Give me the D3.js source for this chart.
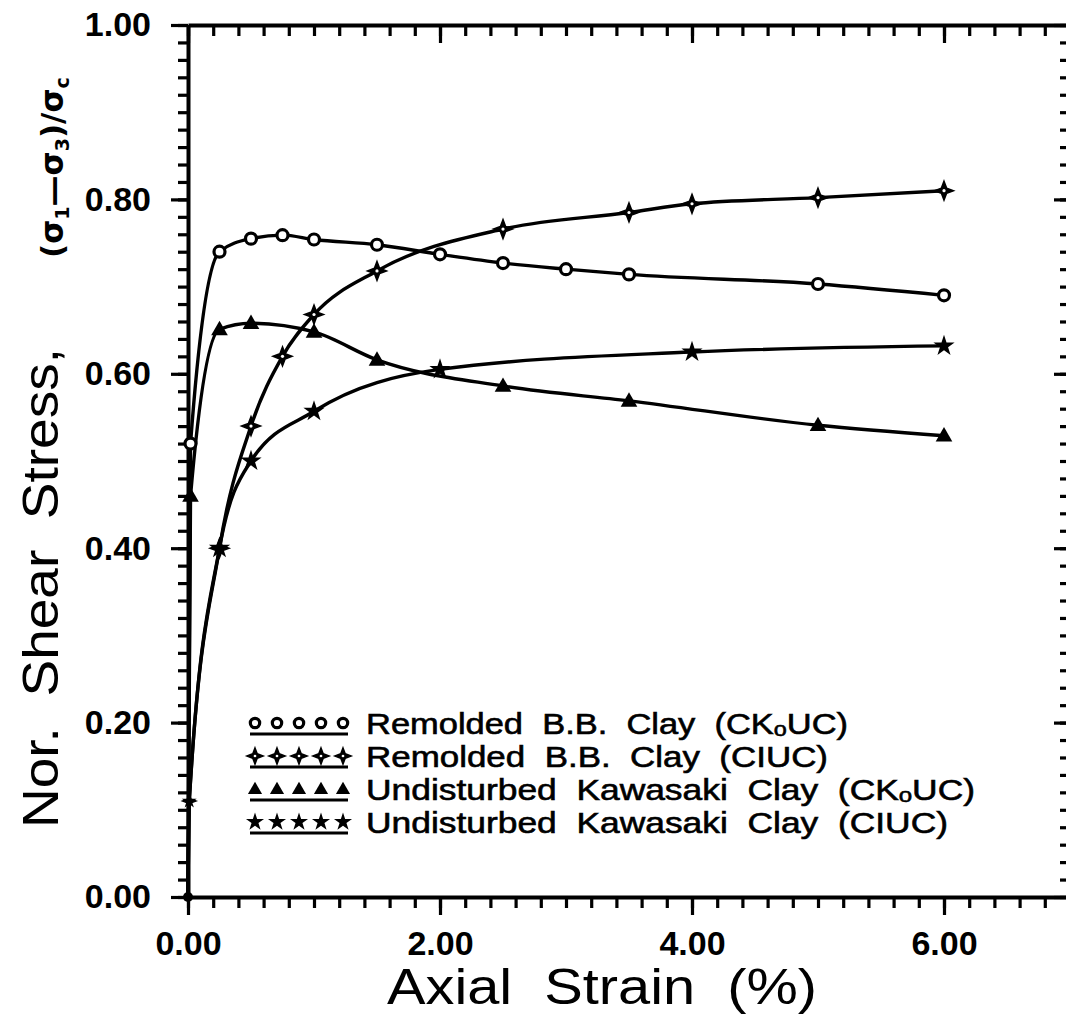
<!DOCTYPE html>
<html><head><meta charset="utf-8">
<script src="https://cdn.jsdelivr.net/npm/d3@7"></script>
<style>
body{margin:0;background:#fff}
svg{display:block}
text{white-space:pre}
</style>
</head><body>
<svg id="chart" width="1066" height="1019"></svg>
<script>
// ---------------- data ----------------
const strainBBCK0 = [0, 0.02, 0.25, 0.5, 0.75, 1.0, 1.5, 2.0, 2.5, 3.0, 3.5, 5.0, 6.0];
const stressBBCK0 = [0, 0.52, 0.74, 0.755, 0.759, 0.754, 0.748, 0.737, 0.727, 0.720, 0.714, 0.703, 0.690];

const strainBBCIU = [0, 0.01, 0.25, 0.5, 0.75, 1.0, 1.5, 2.5, 3.5, 4.0, 5.0, 6.0];
const stressBBCIU = [0, 0.11, 0.40, 0.54, 0.62, 0.668, 0.718, 0.766, 0.785, 0.795, 0.802, 0.810];

const strainKWCK0 = [0, 0.02, 0.25, 0.5, 1.0, 1.5, 2.5, 3.5, 5.0, 6.0];
const stressKWCK0 = [0, 0.46, 0.651, 0.658, 0.648, 0.616, 0.586, 0.569, 0.541, 0.529];

const strainKWCIU = [0, 0.01, 0.25, 0.5, 1.0, 2.0, 4.0, 6.0];
const stressKWCIU = [0, 0.11, 0.40, 0.50, 0.557, 0.605, 0.625, 0.632];

const seriesMarkers = ["circle", "cross", "triangle", "star"];
const legendLabels = ["Remolded  B.B.  Clay  (CKₒUC)", "Remolded  B.B.  Clay  (CIUC)",
                      "Undisturbed  Kawasaki  Clay  (CKₒUC)", "Undisturbed  Kawasaki  Clay  (CIUC)"];
const legendWidths = [482, 462, 609, 582];

const xMajorTicks = [0, 2, 4, 6];
const xTickLabels = ["0.00", "2.00", "4.00", "6.00"];
const yMajorTicks = [0, 0.2, 0.4, 0.6, 0.8, 1.0];
const yTickLabels = ["0.00", "0.20", "0.40", "0.60", "0.80", "1.00"];
const xMinorStep = 0.2, yMinorStep = 0.02;

const xTitle = "Axial  Strain  (%)";
const yTitle = "Nor.  Shear  Stress,";

// ---------------- layout ----------------
const svg = d3.select("#chart");
const x = d3.scaleLinear().domain([0, 7]).range([188, 1070]);
const y = d3.scaleLinear().domain([0, 1]).range([897, 25]);
const X0 = x(0), Y0 = y(0), Xr = x(7), Yt = y(1);

const xMinor = d3.range(0, Math.round(7 / xMinorStep) + 1).map(i => +(i * xMinorStep).toFixed(2));
const yMinor = d3.range(0, Math.round(1 / yMinorStep) + 1).map(i => +(i * yMinorStep).toFixed(2));

function styleAxis(g, showDomain) {
  g.selectAll(".domain").attr("stroke", showDomain ? "#000" : "none").attr("stroke-width", 4);
  g.selectAll(".tick line").attr("stroke", "#000").attr("stroke-width", 3.2);
}

// left axis (outward ticks)
const gl1 = svg.append("g").attr("transform", `translate(${X0},0)`)
  .call(d3.axisLeft(y).tickValues(yMinor).tickSize(10).tickSizeOuter(0).tickFormat(""));
styleAxis(gl1, true);
const gl2 = svg.append("g").attr("transform", `translate(${X0},0)`)
  .call(d3.axisLeft(y).tickValues(yMajorTicks).tickSize(17).tickSizeOuter(0).tickPadding(20)
    .tickFormat((d, i) => yTickLabels[i]));
styleAxis(gl2, false);
gl2.selectAll(".tick text").attr("font-family", "Liberation Sans, Arial, sans-serif")
  .attr("font-weight", "bold").attr("font-size", 34).attr("fill", "#000");

// right axis (inward ticks)
const gr1 = svg.append("g").attr("transform", `translate(${Xr},0)`)
  .call(d3.axisLeft(y).tickValues(yMinor).tickSize(10).tickSizeOuter(0).tickFormat(""));
styleAxis(gr1, true);
const gr2 = svg.append("g").attr("transform", `translate(${Xr},0)`)
  .call(d3.axisLeft(y).tickValues(yMajorTicks).tickSize(16).tickSizeOuter(0).tickFormat(""));
styleAxis(gr2, false);

// bottom axis (outward ticks)
const gb1 = svg.append("g").attr("transform", `translate(0,${Y0})`)
  .call(d3.axisBottom(x).tickValues(xMinor).tickSize(11).tickSizeOuter(0).tickFormat(""));
styleAxis(gb1, true);
const gb2 = svg.append("g").attr("transform", `translate(0,${Y0})`)
  .call(d3.axisBottom(x).tickValues(xMajorTicks).tickSize(18).tickSizeOuter(0).tickPadding(16)
    .tickFormat((d, i) => xTickLabels[i]));
styleAxis(gb2, false);
gb2.selectAll(".tick text").attr("font-family", "Liberation Sans, Arial, sans-serif")
  .attr("font-weight", "bold").attr("font-size", 34).attr("fill", "#000");

// top axis (inward ticks)
const gt1 = svg.append("g").attr("transform", `translate(0,${Yt})`)
  .call(d3.axisBottom(x).tickValues(xMinor).tickSize(11).tickSizeOuter(0).tickFormat(""));
styleAxis(gt1, true);
const gt2 = svg.append("g").attr("transform", `translate(0,${Yt})`)
  .call(d3.axisBottom(x).tickValues(xMajorTicks).tickSize(18).tickSizeOuter(0).tickFormat(""));
styleAxis(gt2, false);

// ---------------- curves ----------------
const series = [
  [strainBBCK0, stressBBCK0],
  [strainBBCIU, stressBBCIU],
  [strainKWCK0, stressKWCK0],
  [strainKWCIU, stressKWCIU]
];
const line = d3.line().x(d => x(d[0])).y(d => y(d[1])).curve(d3.curveMonotoneX);

function drawMarker(g, type, cx, cy, s) {
  s = s || 1;
  if (type === "circle") {
    g.append("circle").attr("cx", cx).attr("cy", cy).attr("r", 5.5 * s)
      .attr("fill", "#fff").attr("stroke", "#000").attr("stroke-width", 3.2);
  } else if (type === "cross") {
    const a = 9.5 * s, b = 2.6 * s;
    const p = d3.path();
    p.moveTo(cx, cy - a); p.lineTo(cx + b, cy - b); p.lineTo(cx + a, cy); p.lineTo(cx + b, cy + b);
    p.lineTo(cx, cy + a); p.lineTo(cx - b, cy + b); p.lineTo(cx - a, cy); p.lineTo(cx - b, cy - b); p.closePath();
    g.append("path").attr("d", p.toString()).attr("fill", "#000").attr("stroke", "#000").attr("stroke-width", 1.5);
    g.append("circle").attr("cx", cx).attr("cy", cy).attr("r", 1.6 * s).attr("fill", "#fff");
  } else if (type === "triangle") {
    g.append("path").attr("d", d3.symbol(d3.symbolTriangle, 120 * s * s)())
      .attr("transform", `translate(${cx},${cy + 1})`).attr("fill", "#000");
  } else if (type === "star") {
    g.append("path").attr("d", d3.symbol(d3.symbolStar, 140 * s * s)())
      .attr("transform", `translate(${cx},${cy})`).attr("fill", "#000");
  }
}

series.forEach((s, k) => {
  const pts = s[0].map((v, i) => [v, s[1][i]]);
  svg.append("path").attr("d", line(pts)).attr("fill", "none")
    .attr("stroke", "#000").attr("stroke-width", 3.4).attr("stroke-linejoin", "round");
});
series.forEach((s, k) => {
  const g = svg.append("g");
  s[0].forEach((v, i) => {
    if (v === 0 && s[1][i] === 0) return;
    drawMarker(g, seriesMarkers[k], x(v), y(s[1][i]), v < 0.05 && s[1][i] < 0.2 ? 0.7 : 1);
  });
});
// origin dot
svg.append("circle").attr("cx", x(0)).attr("cy", y(0)).attr("r", 5).attr("fill", "#000");

// ---------------- legend ----------------
const legendX0 = 255, legendDX = 22, legendY0 = 723, legendDY = 33, legendTextX = 366;
seriesMarkers.forEach((m, k) => {
  const cy = legendY0 + k * legendDY;
  const g = svg.append("g");
  g.append("line").attr("x1", legendX0 - 5).attr("x2", legendX0 + 4 * legendDX + 5)
    .attr("y1", cy + 11).attr("y2", cy + 11).attr("stroke", "#000").attr("stroke-width", 3);
  for (let i = 0; i < 5; i++) drawMarker(g, m, legendX0 + i * legendDX, cy, 0.85);
  svg.append("text").attr("x", legendTextX).attr("y", cy + 11)
    .attr("font-family", "Liberation Sans, DejaVu Sans, sans-serif").attr("font-size", 29).attr("fill", "#000")
    .attr("stroke", "#000").attr("stroke-width", 0.6)
    .attr("textLength", legendWidths[k]).attr("lengthAdjust", "spacingAndGlyphs")
    .text(legendLabels[k]);
});

// ---------------- titles ----------------
svg.append("text").attr("x", 602).attr("y", 1004).attr("text-anchor", "middle")
  .attr("font-family", "Liberation Sans, Arial, sans-serif").attr("font-size", 50)
  .attr("textLength", 430).attr("lengthAdjust", "spacingAndGlyphs").attr("fill", "#000").text(xTitle);

svg.append("text").attr("transform", "translate(58,828) rotate(-90)").attr("x", 0).attr("y", 0)
  .attr("font-family", "Liberation Sans, Arial, sans-serif").attr("font-size", 50)
  .attr("textLength", 480).attr("lengthAdjust", "spacingAndGlyphs").attr("fill", "#000").text(yTitle);

const sig = svg.append("text").attr("transform", "translate(63,258) rotate(-90)")
  .attr("font-family", "DejaVu Sans, sans-serif").attr("font-size", 31).attr("fill", "#000")
  .attr("font-weight", "bold");
sig.append("tspan").text("(σ");
sig.append("tspan").attr("font-size", 19).attr("dy", 6).text("1");
sig.append("tspan").attr("dy", -6).text("—σ");
sig.append("tspan").attr("font-size", 19).attr("dy", 6).text("3");
sig.append("tspan").attr("dy", -6).text(")/σ");
sig.append("tspan").attr("font-size", 19).attr("dy", 6).text("c");
</script>
</body></html>
